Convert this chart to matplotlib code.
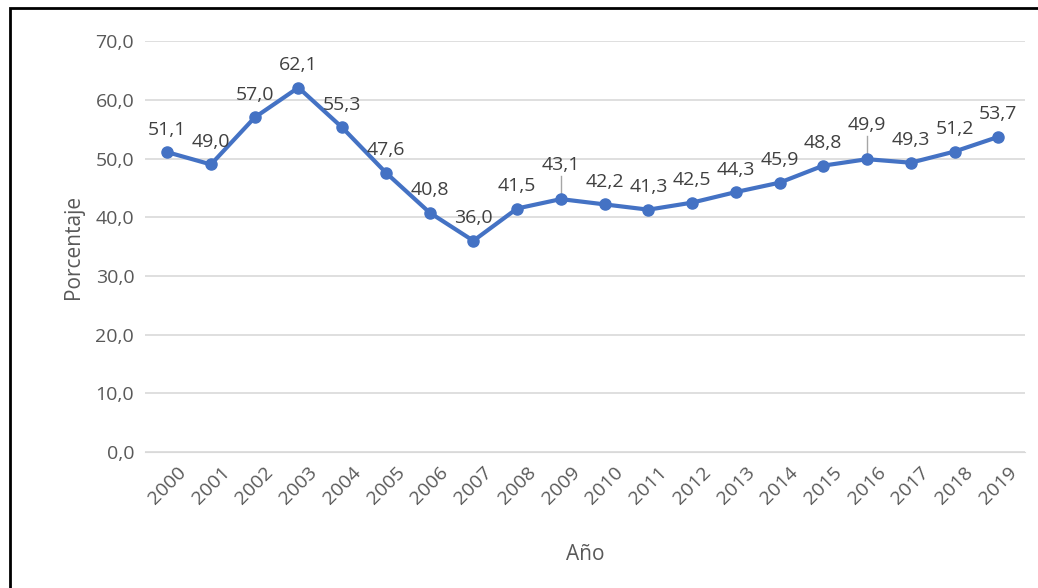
import matplotlib.pyplot as plt
import matplotlib.patches as patches

years = [str(y) for y in range(2000, 2020)]
values = [51.1, 49.0, 57.0, 62.1, 55.3, 47.6, 40.8, 36.0, 41.5, 43.1,
          42.2, 41.3, 42.5, 44.3, 45.9, 48.8, 49.9, 49.3, 51.2, 53.7]

plt.rcParams['font.family'] = 'Open Sans'
fig = plt.figure(figsize=(10.38, 5.88), dpi=100)
ax = fig.add_axes([0.14, 0.231, 0.847, 0.699])

x = list(range(len(years)))
ax.plot(x, values, color='#4472C4', linewidth=3, marker='o', markersize=8, zorder=3)

# data labels
for i, v in enumerate(values):
    lbl = f'{v:.1f}'.replace('.', ',')
    if years[i] in ('2009', '2016'):
        ax.plot([i, i], [v + 0.8, v + 4], color='#A6A6A6', linewidth=1)
        ax.text(i, v + 4.3, lbl, ha='center', va='bottom', fontsize=14, color='#404040')
    else:
        ax.text(i, v + 2.3, lbl, ha='center', va='bottom', fontsize=14, color='#404040')

ax.set_xlim(-0.5, len(years) - 0.4)
ax.set_ylim(0, 70)
ax.set_yticks(range(0, 71, 10))
ax.set_yticklabels([f'{t:.1f}'.replace('.', ',') for t in range(0, 71, 10)],
                   fontsize=14, color='#595959')
ax.set_xticks(x)
ax.set_xticklabels(years, rotation=45, fontsize=14, color='#595959')
ax.yaxis.grid(True, color='#D9D9D9', linewidth=1.2)
ax.set_axisbelow(True)
for s in ['top', 'right', 'left']:
    ax.spines[s].set_visible(False)
ax.spines['bottom'].set_color('#D9D9D9')
ax.tick_params(length=0, pad=8)
ax.set_ylabel('Porcentaje', fontsize=15, color='#595959', labelpad=8)
ax.set_xlabel('Año', fontsize=15, color='#595959', labelpad=26)

fig.patches.append(patches.Rectangle((0.01, -0.1), 1.2, 1.086, transform=fig.transFigure,
                                     fill=False, edgecolor='black', linewidth=2))

fig.savefig('out.png', dpi=100)
